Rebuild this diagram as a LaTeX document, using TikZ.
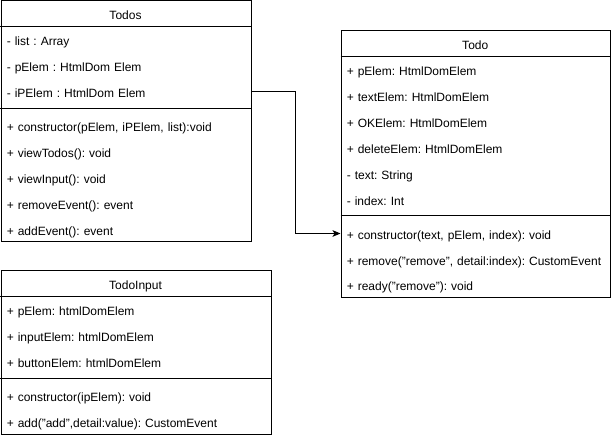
\documentclass[tikz,border=0pt]{standalone}
\usepackage{fontspec}
\setmainfont{Liberation Sans}
\usetikzlibrary{arrows.meta}
\frenchspacing
\begin{document}
\begin{tikzpicture}[x=0.75pt,y=-0.75pt,
  box/.style={draw, line width=0.75pt, rectangle, inner sep=0pt, anchor=north west},
  txt/.style={font=\fontsize{9}{11}\selectfont\frenchspacing, text height=8.6pt, text depth=0pt},
  ttl/.style={txt, inner sep=0pt},
  row/.style={txt, anchor=west, inner xsep=4.5pt, inner ysep=0pt, minimum height=19.5pt, align=left, text width=#1},
  sep/.style={line width=0.75pt},
  conn/.style={line width=0.75pt, -{Stealth[length=6pt,width=5pt,inset=1.5pt]}}]
\useasboundingbox (0,0) rectangle (612,438);

% ---- Todos ----
\node[box, minimum width=187.5pt, minimum height=180.75pt] (todos) at (0.5,0.5) {};
\node[ttl] (todos-t) at (125.5,13.5) {Todos};
\draw[sep] (0.5,26.5) -- (250.5,26.5);
\node[row=178.5pt] (todos-a1) at (0.5,39.5) {- list : Array};
\node[row=178.5pt] (todos-a2) at (0.5,65.5) {- pElem : HtmlDom Elem};
\node[row=178.5pt] (todos-a3) at (0.5,91.5) {- iPElem : HtmlDom Elem};
\draw[sep] (0.5,108.5) -- (250.5,108.5);
\node[row=178.5pt] (todos-m1) at (0.5,125.5) {+ constructor(pElem, iPElem, list):void};
\node[row=178.5pt] (todos-m2) at (0.5,151.5) {+ viewTodos(): void};
\node[row=178.5pt] (todos-m3) at (0.5,177.5) {+ viewInput(): void};
\node[row=178.5pt] (todos-m4) at (0.5,203.5) {+ removeEvent(): event};
\node[row=178.5pt] (todos-m5) at (0.5,229.5) {+ addEvent(): event};

% ---- Todo ----
\node[box, minimum width=202.1pt, minimum height=200.25pt] (todo) at (340.5,30.5) {};
\node[ttl] (todo-t) at (475.25,43.5) {Todo};
\draw[sep] (340.5,56.5) -- (610,56.5);
\node[row=193.1pt] (todo-a1) at (340.5,69.5) {+ pElem: HtmlDomElem};
\node[row=193.1pt] (todo-a2) at (340.5,95.5) {+ textElem: HtmlDomElem};
\node[row=193.1pt] (todo-a3) at (340.5,121.5) {+ OKElem: HtmlDomElem};
\node[row=193.1pt] (todo-a4) at (340.5,147.5) {+ deleteElem: HtmlDomElem};
\node[row=193.1pt] (todo-a5) at (340.5,173.5) {- text: String};
\node[row=193.1pt] (todo-a6) at (340.5,199.5) {- index: Int};
\draw[sep] (340.5,216) -- (610,216);
\node[row=193.1pt] (todo-m1) at (340.5,233.5) {+ constructor(text, pElem, index): void};
\node[row=193.1pt] (todo-m2) at (340.5,259.5) {+ remove("remove", detail:index): CustomEvent};
\node[row=193.1pt] (todo-m3) at (340.5,285) {+ ready("remove"): void};

% ---- TodoInput ----
\node[box, minimum width=202.5pt, minimum height=123pt] (input) at (0.5,270.5) {};
\node[ttl] (input-t) at (135.5,283.5) {TodoInput};
\draw[sep] (0.5,296.5) -- (270.5,296.5);
\node[row=193.5pt] (input-a1) at (0.5,309.5) {+ pElem: htmlDomElem};
\node[row=193.5pt] (input-a2) at (0.5,335.5) {+ inputElem: htmlDomElem};
\node[row=193.5pt] (input-a3) at (0.5,361.5) {+ buttonElem: htmlDomElem};
\draw[sep] (0.5,378.5) -- (270.5,378.5);
\node[row=193.5pt] (input-m1) at (0.5,395.5) {+ constructor(ipElem): void};
\node[row=193.5pt] (input-m2) at (0.5,421.5) {+ add("add",detail:value): CustomEvent};

% ---- connector ----
\draw[conn] (todos-a3.east) -- ++(44.5,0) |- (todo-m1.west);
\end{tikzpicture}
\end{document}
